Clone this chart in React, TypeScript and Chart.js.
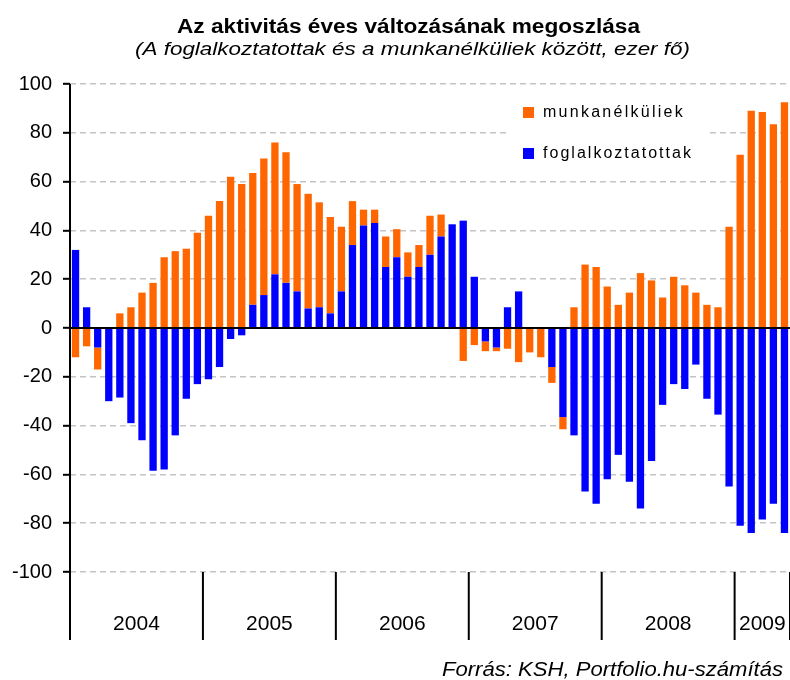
import React, { useEffect, useRef } from "react";
import { Chart, registerables } from "chart.js";

Chart.register(...registerables);

// ---- Data ----
const years = ["2004", "2005", "2006", "2007", "2008", "2009"];
const monthsPerYear = [12, 12, 12, 12, 12, 5];

const categories: string[] = [];
years.forEach((y, yi) => {
  for (let m = 1; m <= monthsPerYear[yi]; m++) categories.push(`${y}-${m < 10 ? "0" + m : m}`);
});

const foglalkoztatottak = [
  32, 8.5, -8, -30, -28.5, -39, -46, -58.5, -58, -44, -29, -23,
  -21, -16, -4.5, -3, 9.5, 13.5, 22, 18.5, 15, 8, 8.5, 6,
  15, 34, 42, 43, 25, 29, 21, 25, 30, 37.5, 42.5, 44,
  21, -5.5, -8, 8.5, 15, 0, 0, -16, -36.5, -44, -67, -72,
  -62, -52, -63, -74, -54.5, -31.5, -23, -25, -15, -29, -35.5, -65,
  -81, -84, -78.5, -72, -84,
];

const munkanelkuliek = [
  -12, -7.5, -9, 0, 6, 8.5, 14.5, 18.5, 29, 31.5, 32.5, 39,
  46, 52, 62, 59, 54, 56, 54, 53.5, 44, 47, 43, 39.5,
  26.5, 18, 6.5, 5.5, 12.5, 11.5, 10, 9, 16, 9, 0, -13.5,
  -7, -4, -1.5, -8.5, -14, -10, -12, -6.5, -5, 8.5, 26, 25,
  17, 9.5, 14.5, 22.5, 19.5, 12.5, 21, 17.5, 14.5, 9.5, 8.5, 41.5,
  71, 89, 88.5, 83.5, 92.5,
];

const yTicks = [100, 80, 60, 40, 20, 0, -20, -40, -60, -80, -100];

const titleText = "Az aktivitás éves változásának megoszlása";
const subtitleText = "(A foglalkoztatottak és a munkanélküliek között, ezer fő)";
const sourceText = "Forrás: KSH, Portfolio.hu-számítás";
const legendLabels = ["munkanélküliek", "foglalkoztatottak"];

const ORANGE = "#FF6600";
const BLUE = "#0000FF";
const FONT = "'Liberation Sans', Arial, sans-serif";

// letter-spaced text fitted to a width
function drawSpaced(
  ctx: CanvasRenderingContext2D,
  text: string,
  font: string,
  x: number,
  y: number,
  target: number
) {
  ctx.save();
  ctx.font = font;
  (ctx as any).letterSpacing = "0px";
  const w = ctx.measureText(text).width;
  const ls = (target - w) / text.length;
  (ctx as any).letterSpacing = `${ls}px`;
  ctx.textAlign = "left";
  ctx.textBaseline = "middle";
  ctx.fillStyle = "#000";
  ctx.fillText(text, x, y);
  ctx.restore();
}

// horizontally stretched text fitted to a width
function drawStretched(
  ctx: CanvasRenderingContext2D,
  text: string,
  font: string,
  x: number,
  y: number,
  target: number
) {
  ctx.save();
  ctx.font = font;
  const w = ctx.measureText(text).width;
  const sx = target / w;
  ctx.translate(x, y);
  ctx.scale(sx, 1);
  ctx.textAlign = "left";
  ctx.textBaseline = "middle";
  ctx.fillStyle = "#000";
  ctx.fillText(text, 0, 0);
  ctx.restore();
}

const decorPlugin = {
  id: "decor",
  beforeDatasetsDraw(chart: any) {
    const ctx = chart.ctx as CanvasRenderingContext2D;
    ctx.save();
    ctx.fillStyle = "#fff";
    ctx.fillRect(508, 92, 198, 80);
    ctx.restore();
  },
  afterDatasetsDraw(chart: any) {
    const ctx = chart.ctx as CanvasRenderingContext2D;
    const xs = chart.scales.x;
    const ys = chart.scales.y;
    const area = chart.chartArea;
    const step = xs.getPixelForValue(1) - xs.getPixelForValue(0);
    const y0 = ys.getPixelForValue(0);

    ctx.save();
    // zero line
    ctx.strokeStyle = "#000";
    ctx.lineWidth = 2;
    ctx.beginPath();
    ctx.moveTo(area.left, y0);
    ctx.lineTo(area.right, y0);
    ctx.stroke();

    // left axis line, extended below
    const bottomExt = 640;
    ctx.beginPath();
    ctx.moveTo(area.left, area.top);
    ctx.lineTo(area.left, bottomExt);
    ctx.stroke();

    // year separators and labels
    let idx = 0;
    ctx.font = `21px ${FONT}`;
    ctx.fillStyle = "#000";
    ctx.textAlign = "center";
    ctx.textBaseline = "middle";
    years.forEach((yr, yi) => {
      const start = idx;
      const end = idx + monthsPerYear[yi] - 1;
      idx += monthsPerYear[yi];
      const sepX = xs.getPixelForValue(end) + step / 2;
      ctx.beginPath();
      ctx.moveTo(sepX, area.bottom);
      ctx.lineTo(sepX, bottomExt);
      ctx.stroke();
      const cx = (xs.getPixelForValue(start) + xs.getPixelForValue(end)) / 2;
      ctx.fillText(yr, cx, 624);
    });
    ctx.restore();

    // legend
    const colors = [ORANGE, BLUE];
    const legY = [113, 154];
    const legW = [142, 150];
    legendLabels.forEach((lab, i) => {
      ctx.save();
      ctx.fillStyle = colors[i];
      ctx.fillRect(523, legY[i] - 6, 11, 11);
      ctx.restore();
      drawSpaced(ctx, lab, `16px ${FONT}`, 543, legY[i], legW[i]);
    });

    // title, subtitle, source
    drawStretched(ctx, titleText, `bold 20px ${FONT}`, 177, 27, 463);
    drawStretched(ctx, subtitleText, `italic 18px ${FONT}`, 135, 50, 555);
    drawStretched(ctx, sourceText, `italic 20px ${FONT}`, 442, 670, 341);
  },
};

export default function App() {
  const ref = useRef<HTMLCanvasElement | null>(null);

  useEffect(() => {
    if (!ref.current) return;
    const chart = new Chart(ref.current, {
      type: "bar",
      data: {
        labels: categories,
        datasets: [
          {
            label: "foglalkoztatottak",
            data: foglalkoztatottak,
            backgroundColor: BLUE,
            borderWidth: 0,
            barPercentage: 0.66,
            categoryPercentage: 1,
          },
          {
            label: "munkanélküliek",
            data: munkanelkuliek,
            backgroundColor: ORANGE,
            borderWidth: 0,
            barPercentage: 0.66,
            categoryPercentage: 1,
          },
        ],
      },
      options: {
        responsive: false,
        animation: false,
        devicePixelRatio: 1,
        layout: { padding: { top: 84, bottom: 108, left: 0, right: 0 } },
        plugins: {
          legend: { display: false },
          tooltip: { enabled: false },
          title: { display: false },
        },
        scales: {
          x: {
            stacked: true,
            display: false,
          },
          y: {
            stacked: true,
            min: -100,
            max: 100,
            afterFit: (scale: any) => {
              scale.width = 70;
            },
            afterBuildTicks: (scale: any) => {
              scale.ticks = yTicks.map((v) => ({ value: v }));
            },
            ticks: {
              font: { family: FONT, size: 20 },
              color: "#000",
              padding: 11,
            },
            grid: {
              color: (c: any) => (c.tick && c.tick.value === 0 ? "rgba(0,0,0,0)" : "#c4c4c4"),
              lineWidth: 1.6,
              tickColor: "#000",
              tickLength: 7,
              tickWidth: 2,
            },
            border: { display: false, dash: [6, 4] },
          },
        },
      },
      plugins: [decorPlugin],
    });
    return () => chart.destroy();
  }, []);

  return (
    <div style={{ position: "absolute", left: 0, top: 0, width: 790, height: 680 }}>
      <canvas ref={ref} width={790} height={680} style={{ width: 790, height: 680 }} />
    </div>
  );
}
